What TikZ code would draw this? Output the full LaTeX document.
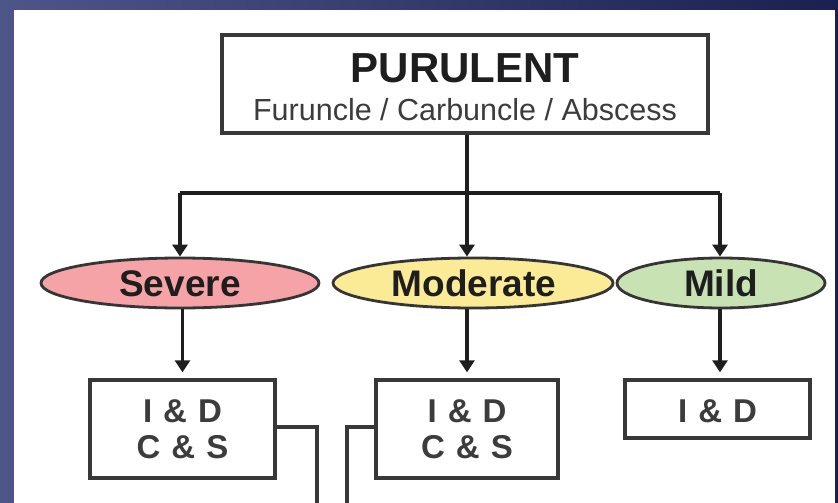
\documentclass[tikz,border=0pt]{standalone}
\usepackage{fontspec}
\setmainfont{Liberation Sans}
\usetikzlibrary{arrows.meta,shapes.geometric}
\definecolor{bgl}{HTML}{4D5687}
\definecolor{bgr}{HTML}{1A2150}
\definecolor{sevfill}{HTML}{F5A3A6}
\definecolor{modfill}{HTML}{FBEB96}
\definecolor{milfill}{HTML}{C9E2B3}
\definecolor{lincol}{HTML}{1E1E1E}
\definecolor{boxcol}{HTML}{383838}
\definecolor{boxtxt}{HTML}{3C3C3C}
\tikzset{
  box/.style={draw=boxcol, line width=3.4pt, fill=white, rectangle, inner sep=0pt},
  sev/.style={ellipse, draw=lincol!90, line width=2.8pt, inner sep=0pt, minimum height=50pt},
  conn/.style={draw=lincol, line width=3.8pt},
  arr/.style={conn, -{Triangle[length=12pt,width=15pt]}},
  big/.style={font=\fontsize{42}{46}\selectfont\bfseries, text=lincol, inner sep=0pt, anchor=base},
  sub/.style={font=\fontsize{30.5}{34}\selectfont, text=boxtxt, inner sep=0pt, anchor=base},
  lvl/.style={font=\fontsize{37}{40}\selectfont\bfseries, text=lincol, inner sep=0pt, anchor=base},
  act/.style={font=\fontsize{33}{36}\selectfont\bfseries, text=boxtxt, inner sep=0pt, anchor=base},
}
\begin{document}
\begin{tikzpicture}[x=1pt,y=-1pt]
\useasboundingbox (0,0) rectangle (838,503);
\shade[left color=bgl, right color=bgr] (0,0) rectangle (838,503);
\fill[white] (14,10) rectangle (835,503);

% top box
\node[box, minimum width=486pt, minimum height=98pt] (pur) at (465,84) {};
\node[big] (purt) at (465,82) {PURULENT};
\node[sub] (purs) at (465,120) {Furuncle / Carbuncle / Abscess};

% ellipses
\node[sev, fill=sevfill, minimum width=278pt] (sev) at (180,283) {};
\node[sev, fill=modfill, minimum width=280pt] (mod) at (473,283) {};
\node[sev, fill=milfill, minimum width=208pt] (mil) at (721,283) {};
\node[lvl] (sevt) at (180,296) {Severe};
\node[lvl] (modt) at (474,296) {Moderate};
\node[lvl] (milt) at (721,296) {Mild};

% action boxes
\node[box, minimum width=185pt, minimum height=98pt] (sb) at (182.5,429) {};
\node[box, minimum width=182pt, minimum height=98pt] (mb) at (467,429) {};
\node[box, minimum width=185pt, minimum height=58pt] (lb) at (717.5,409) {};
\node[act] (sb1) at (182.5,422) {I\,\,\&\,\,D};
\node[act] (sb2) at (182.5,458) {C\,\,\&\,\,S};
\node[act] (mb1) at (467,422) {I\,\,\&\,\,D};
\node[act] (mb2) at (467,458) {C\,\,\&\,\,S};
\node[act] (lb1) at (717.5,422) {I\,\,\&\,\,D};

% connectors
\coordinate (jl) at (180,193);
\coordinate (jm) at (467,193);
\coordinate (jr) at (720,193);
\draw[conn] (pur.south -| jm) -- (jm);
\draw[conn] (jl) -- (jr);
\draw[arr] (jl) -- (jl |- sev.north);
\draw[arr] (jm) -- (jm |- mod.north);
\draw[arr] (jr) -- (jr |- mil.north);
\draw[arr, shorten >=6pt] (sev.south -| sb.north) -- (sb.north);
\draw[arr, shorten >=6pt] (mod.south -| mb.north) -- (mb.north);
\draw[arr, shorten >=6pt] (jr |- mil.south) -- (jr |- lb.north);

\coordinate (sbo) at (317,427);
\coordinate (sbe) at (317,505);
\coordinate (mbo) at (347,427);
\coordinate (mbe) at (347,505);
\draw[conn, draw=boxcol, line width=3.4pt] (sb.east |- sbo) -- (sbo) -- (sbe);
\draw[conn, draw=boxcol, line width=3.4pt] (mb.west |- mbo) -- (mbo) -- (mbe);
\end{tikzpicture}
\end{document}
